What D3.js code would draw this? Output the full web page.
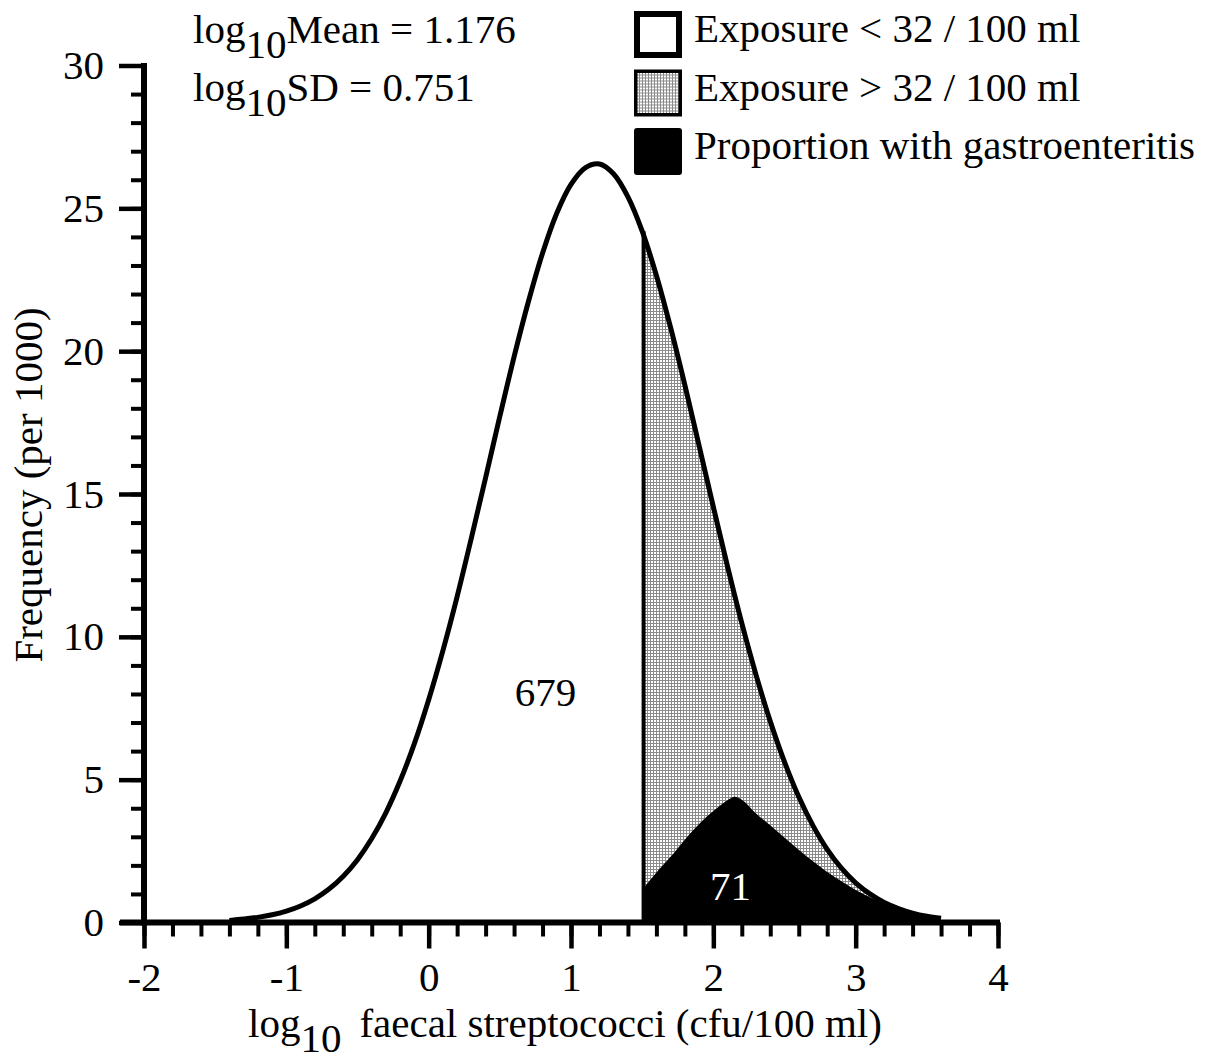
<!DOCTYPE html>
<html>
<head>
<meta charset="utf-8">
<script src="https://cdnjs.cloudflare.com/ajax/libs/d3/7.8.5/d3.min.js"></script>
<style>
  body { margin: 0; background: #fff; }
  svg { display: block; font-family: "Liberation Serif", "Times New Roman", serif; }
</style>
</head>
<body>
<svg id="chart" width="1216" height="1064"></svg>
<script>
// frequency curve (per 1000)
var curveX = [-1.4, -1.3, -1.2, -1.1, -1.0, -0.9, -0.8, -0.7, -0.6, -0.5,
              -0.4, -0.3, -0.2, -0.1, 0.0, 0.1, 0.2, 0.3, 0.4, 0.5,
              0.6, 0.7, 0.8, 0.9, 1.0, 1.1, 1.2, 1.3, 1.4, 1.5,
              1.6, 1.7, 1.8, 1.9, 2.0, 2.1, 2.2, 2.3, 2.4, 2.5,
              2.6, 2.7, 2.8, 2.9, 3.0, 3.1, 3.2, 3.3, 3.4, 3.5, 3.6];
var curveY = [0.07, 0.12, 0.18, 0.27, 0.40, 0.58, 0.83, 1.17, 1.62, 2.20,
              2.94, 3.85, 4.96, 6.27, 7.80, 9.52, 11.41, 13.46, 15.57, 17.72,
              19.80, 21.72, 23.43, 24.83, 25.84, 26.42, 26.55, 26.20, 25.40, 24.20,
              22.65, 20.82, 18.81, 16.69, 14.55, 12.46, 10.48, 8.67, 7.04, 5.62,
              4.40, 3.39, 2.56, 1.90, 1.39, 1.00, 0.70, 0.49, 0.33, 0.22, 0.15];

// proportion with gastroenteritis
var illX = [1.5, 1.6, 1.7, 1.8, 1.9, 2.0, 2.1, 2.15, 2.2, 2.3, 2.4, 2.5,
            2.6, 2.7, 2.8, 2.9, 3.0, 3.1, 3.2, 3.3, 3.4, 3.5, 3.57];
var illY = [1.2, 1.75, 2.3, 2.9, 3.45, 3.9, 4.28, 4.4, 4.3, 3.82, 3.4, 2.97,
            2.55, 2.14, 1.77, 1.44, 1.14, 0.88, 0.65, 0.48, 0.33, 0.22, 0.12];

var threshold = 1.51;   // log10(32)
var countBelow = "679";
var countIll = "71";
var statLines = [["Mean", "1.176"], ["SD", "0.751"]];

var xTicks = [-2, -1, 0, 1, 2, 3, 4];
var yTicks = [0, 5, 10, 15, 20, 25, 30];

var legendLabels = ["Exposure < 32 / 100 ml", "Exposure > 32 / 100 ml", "Proportion with gastroenteritis"];

var fontSize = 41;
var fontFamily = "Liberation Serif, Times New Roman, serif";

var svg = d3.select("#chart");

var x = d3.scaleLinear().domain([-2, 4]).range([144, 998]);
var y = d3.scaleLinear().domain([0, 30]).range([922.5, 65.5]);

var defs = svg.append("defs");
var pat = defs.append("pattern")
    .attr("id", "dots")
    .attr("width", 3)
    .attr("height", 3)
    .attr("patternUnits", "userSpaceOnUse");
pat.append("rect").attr("width", 3).attr("height", 3).attr("fill", "#8a8a8a");
pat.append("rect").attr("width", 2).attr("height", 2).attr("fill", "#ffffff");

var curve = curveX.map(function(d, i) { return {x: d, y: curveY[i]}; });
var ill = illX.map(function(d, i) { return {x: d, y: illY[i]}; });

var area = d3.area()
    .x(function(d) { return x(Math.max(d.x, threshold)); })
    .y0(y(0))
    .y1(function(d) { return y(d.y); })
    .curve(d3.curveCatmullRom);

// exposure above threshold
svg.append("path")
    .datum(curve.filter(function(d) { return d.x >= 1.5; }))
    .attr("d", area)
    .attr("fill", "url(#dots)");

// ill
svg.append("path")
    .datum(ill)
    .attr("d", area.curve(d3.curveMonotoneX))
    .attr("fill", "#000");

var line = d3.line()
    .x(function(d) { return x(d.x); })
    .y(function(d) { return y(d.y); })
    .curve(d3.curveCatmullRom);

svg.append("path")
    .datum(curve)
    .attr("d", line)
    .attr("fill", "none")
    .attr("stroke", "#000")
    .attr("stroke-width", 5)
    .attr("stroke-linejoin", "round");

var topAtThreshold = curve.filter(function(d) { return d.x >= 1.5; })[0].y;
svg.append("line")
    .attr("x1", x(threshold)).attr("x2", x(threshold))
    .attr("y1", y(0)).attr("y2", y(topAtThreshold))
    .attr("stroke", "#000")
    .attr("stroke-width", 4);

// counts
svg.append("text")
    .attr("x", x(0.82)).attr("y", y(8.07))
    .attr("dy", "0.35em")
    .attr("text-anchor", "middle")
    .attr("font-size", fontSize)
    .text(countBelow);

svg.append("text")
    .attr("x", x(2.12)).attr("y", y(1.3))
    .attr("dy", "0.35em")
    .attr("text-anchor", "middle")
    .attr("font-size", fontSize)
    .attr("fill", "#fff")
    .text(countIll);

// axes
function styleAxis(g, width) {
  g.select(".domain").remove();
  g.selectAll("line").attr("stroke-width", width);
  g.attr("font-size", fontSize).attr("font-family", fontFamily);
  g.selectAll("text").attr("fill", "#000");
}

svg.append("g")
    .attr("transform", "translate(144,0)")
    .call(d3.axisLeft(y).tickValues(d3.range(0, 31, 1)).tickSize(13).tickFormat(""))
    .call(styleAxis, 4);

svg.append("g")
    .attr("transform", "translate(144,0)")
    .call(d3.axisLeft(y).tickValues(yTicks).tickSize(25).tickPadding(15)
      .tickFormat(function(d) { return String(d); }))
    .call(styleAxis, 4.5);

svg.append("g")
    .attr("transform", "translate(0," + y(0) + ")")
    .call(d3.axisBottom(x).tickValues(d3.range(-2, 4.01, 0.2)).tickSize(14).tickFormat(""))
    .call(styleAxis, 4);

svg.append("g")
    .attr("transform", "translate(0," + y(0) + ")")
    .call(d3.axisBottom(x).tickValues(xTicks).tickSize(26).tickPadding(13)
      .tickFormat(function(d) { return String(d); }))
    .call(styleAxis, 4.5);

svg.append("line")
    .attr("x1", x(-2)).attr("x2", x(-2))
    .attr("y1", y(30) - 2.5).attr("y2", y(0) + 3)
    .attr("stroke", "#000").attr("stroke-width", 6);

svg.append("line")
    .attr("x1", 120).attr("x2", x(4) + 2)
    .attr("y1", y(0)).attr("y2", y(0))
    .attr("stroke", "#000").attr("stroke-width", 6);

// axis titles
var xTitle = svg.append("text")
    .attr("x", 248).attr("y", 1037)
    .attr("font-size", fontSize);
xTitle.append("tspan").text("log");
xTitle.append("tspan").attr("dy", 15).text("10");
xTitle.append("tspan").attr("dy", -15).attr("dx", 18).text("faecal streptococci (cfu/100 ml)");

svg.append("text")
    .attr("transform", "translate(42,485) rotate(-90)")
    .attr("text-anchor", "middle")
    .attr("font-size", fontSize)
    .text("Frequency (per 1000)");

// mean / sd text
svg.selectAll(".stat")
    .data(statLines)
    .join("text")
    .attr("class", "stat")
    .attr("x", 193)
    .attr("y", function(d, i) { return 43 + i * 58; })
    .attr("font-size", fontSize)
    .each(function(d) {
      var t = d3.select(this);
      t.append("tspan").text("log");
      t.append("tspan").attr("dy", 15).text("10");
      t.append("tspan").attr("dy", -15).text(d[0] + " = " + d[1]);
    });

// legend
var legendFill = ["#fff", "url(#dots)", "#000"];
var legendStroke = [6, 3.5, 0];

var legend = svg.selectAll(".legend")
    .data(legendLabels)
    .join("g")
    .attr("class", "legend")
    .attr("transform", function(d, i) { return "translate(634," + (11 + i * 58.5) + ")"; });

legend.append("rect")
    .attr("x", function(d, i) { return legendStroke[i] / 2; })
    .attr("y", function(d, i) { return legendStroke[i] / 2; })
    .attr("width", function(d, i) { return 48 - legendStroke[i]; })
    .attr("height", function(d, i) { return 47 - legendStroke[i]; })
    .attr("rx", function(d, i) { return i == 2 ? 3 : 0; })
    .attr("fill", function(d, i) { return legendFill[i]; })
    .attr("stroke", "#000")
    .attr("stroke-width", function(d, i) { return legendStroke[i]; });

legend.append("text")
    .attr("x", 60)
    .attr("y", 31)
    .attr("font-size", fontSize)
    .text(function(d) { return d; });
</script>
</body>
</html>
